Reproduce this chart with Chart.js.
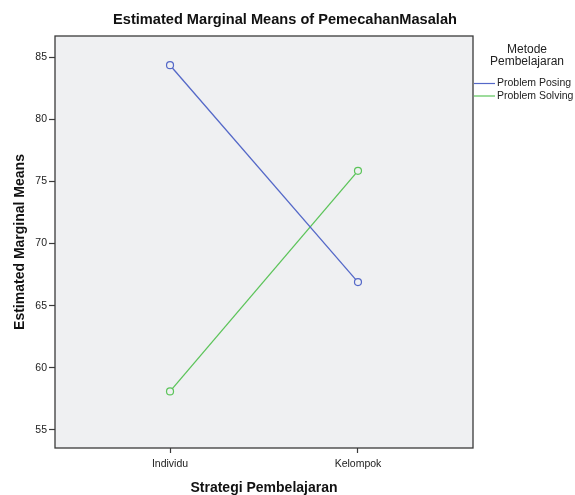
<!DOCTYPE html>
<html>
<head>
<meta charset="utf-8">
<script src="https://cdn.jsdelivr.net/npm/chart.js@4/dist/chart.umd.min.js"></script>
<style>
  html, body { margin: 0; padding: 0; background: #ffffff; }
  #wrap { width: 575px; height: 495px; }
</style>
</head>
<body>
<div id="wrap"><canvas id="emm" width="575" height="495"></canvas></div>
<script>
// data
const categories = ['Individu', 'Kelompok'];
const problemPosing = [84.35, 66.9];
const problemSolving = [58.1, 75.85];
const seriesNames = ['Problem Posing', 'Problem Solving'];
const yTicks = [55, 60, 65, 70, 75, 80, 85];
const legendTitle = ['Metode', 'Pembelajaran'];

const blue = '#5468c8';
const green = '#5cc45a';
const plotBg = '#eff0f2';
const font = '"Liberation Sans", Arial, sans-serif';

// plot frame, title and legend drawn on the canvas
const frame = {
    id: 'frame',
    beforeDatasetsDraw(chart) {
        const a = chart.chartArea, ctx = chart.ctx;
        ctx.save();
        ctx.fillStyle = plotBg;
        ctx.fillRect(a.left, a.top, a.right - a.left, a.bottom - a.top);
        ctx.restore();
    },
    afterDraw(chart) {
        const a = chart.chartArea, ctx = chart.ctx;
        ctx.save();
        ctx.strokeStyle = '#3a3a3a';
        ctx.lineWidth = 1.3;
        ctx.strokeRect(a.left, a.top, a.right - a.left, a.bottom - a.top);

        ctx.fillStyle = '#111';
        ctx.font = 'bold 14.6px ' + font;
        ctx.textAlign = 'center';
        ctx.textBaseline = 'middle';
        ctx.fillText('Estimated Marginal Means of PemecahanMasalah', 285, 20);

        ctx.fillStyle = '#222';
        ctx.font = '12px ' + font;
        legendTitle.forEach((t, i) => ctx.fillText(t, 527, 50 + i * 12));

        ctx.font = '10.5px ' + font;
        ctx.textAlign = 'left';
        chart.data.datasets.forEach((ds, i) => {
            const y = 83.5 + i * 12.5;
            ctx.strokeStyle = ds.borderColor;
            ctx.lineWidth = 1.2;
            ctx.beginPath();
            ctx.moveTo(474, y);
            ctx.lineTo(495, y);
            ctx.stroke();
            ctx.fillStyle = '#222';
            ctx.fillText(ds.label, 497, y);
        });
        ctx.restore();
    }
};

const toPoints = vals => vals.map((v, i) => ({ x: i, y: v }));

new Chart(document.getElementById('emm'), {
    type: 'line',
    data: {
        datasets: [{
            label: seriesNames[0],
            data: toPoints(problemPosing),
            borderColor: blue,
            borderWidth: 1.3,
            pointRadius: 3.5,
            pointBorderWidth: 1.2,
            pointBackgroundColor: plotBg,
            pointBorderColor: blue
        }, {
            label: seriesNames[1],
            data: toPoints(problemSolving),
            borderColor: green,
            borderWidth: 1.3,
            pointRadius: 3.5,
            pointBorderWidth: 1.2,
            pointBackgroundColor: plotBg,
            pointBorderColor: green
        }]
    },
    options: {
        responsive: false,
        animation: false,
        layout: { padding: { top: 36, right: 102, left: 0, bottom: 0 } },
        plugins: {
            legend: { display: false },
            tooltip: { enabled: false }
        },
        scales: {
            x: {
                type: 'linear',
                min: -0.612,
                max: 1.612,
                afterBuildTicks: s => { s.ticks = categories.map((c, i) => ({ value: i })); },
                afterFit: s => { s.height = 47; },
                grid: { drawOnChartArea: false, drawTicks: true, tickLength: 5, color: '#3a3a3a', tickWidth: 1.2 },
                border: { display: false },
                ticks: {
                    callback: v => categories[v],
                    color: '#222',
                    font: { family: font, size: 10.5 },
                    padding: 5,
                    maxRotation: 0
                },
                title: {
                    display: true,
                    text: 'Strategi Pembelajaran',
                    color: '#111',
                    font: { family: font, size: 14, weight: 'bold', lineHeight: 1.05 },
                    padding: { top: 0, bottom: 0 }
                }
            },
            y: {
                min: 53.55,
                max: 86.7,
                afterBuildTicks: s => { s.ticks = yTicks.map(v => ({ value: v })); },
                afterFit: s => { s.width = 55; },
                grid: { drawOnChartArea: false, drawTicks: true, tickLength: 6, color: '#3a3a3a', tickWidth: 1.2 },
                border: { display: false },
                ticks: {
                    color: '#222',
                    font: { family: font, size: 10.5 },
                    padding: 2
                },
                title: {
                    display: true,
                    text: 'Estimated Marginal Means',
                    color: '#111',
                    font: { family: font, size: 14, weight: 'bold' },
                    padding: { top: 11.5, bottom: 0 }
                }
            }
        }
    },
    plugins: [frame]
});
</script>
</body>
</html>
